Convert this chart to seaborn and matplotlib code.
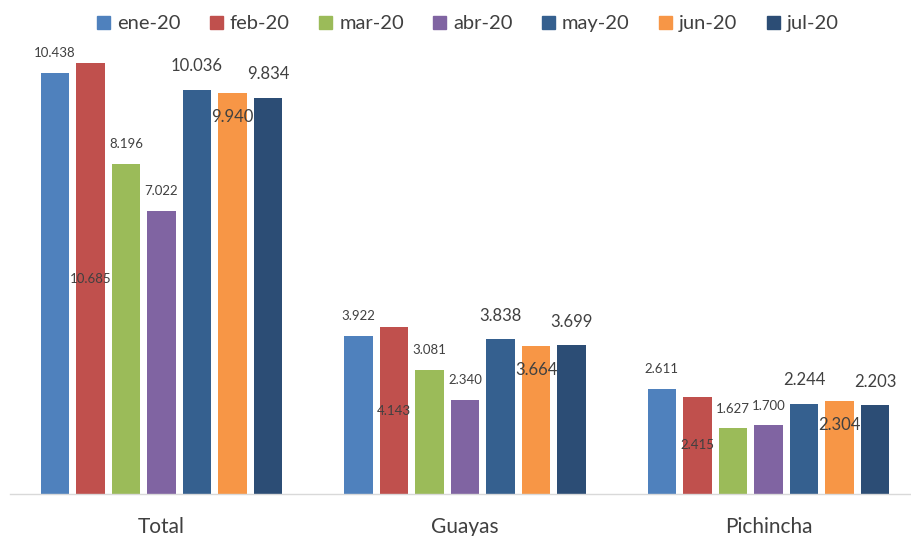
import matplotlib
matplotlib.use("Agg")
import matplotlib.pyplot as plt
import matplotlib.patches as mpatches
import seaborn as sns
import pandas as pd

regions = ["Total", "Guayas", "Pichincha"]
months = ["ene-20", "feb-20", "mar-20", "abr-20", "may-20", "jun-20", "jul-20"]
ene = [10.438, 3.922, 2.611]
feb = [10.685, 4.143, 2.415]
mar = [8.196, 3.081, 1.627]
abr = [7.022, 2.340, 1.700]
may = [10.036, 3.838, 2.244]
jun = [9.940, 3.664, 2.304]
jul = [9.834, 3.699, 2.203]
series = [ene, feb, mar, abr, may, jun, jul]
colors = ["#4F81BD", "#C0504D", "#9BBB59", "#8064A2", "#35608F", "#F79646", "#2C4D75"]

rows = []
for m, vals in zip(months, series):
    for r, v in zip(regions, vals):
        rows.append({"region": r, "month": m, "value": v})
df = pd.DataFrame(rows)

sns.set_theme(style="white")
plt.rcParams["font.family"] = ["Lato", "DejaVu Sans"]
text_color = "#404040"

fig = plt.figure(figsize=(9.12, 5.36), dpi=100)
ax = fig.add_axes([10 / 912, 42 / 536, 902 / 912, 484 / 536])

sns.barplot(data=df, x="region", y="value", hue="month", order=regions,
            hue_order=months, palette=colors, width=0.82, gap=0.2,
            saturation=1, ax=ax, legend=False, edgecolor="none")

ax.set_xlim(-0.499, 2.473)
ax.set_ylim(0, 484 / 40.3)

for i, cont in enumerate(ax.containers):
    labels = [f"{v:.3f}" for v in series[i]]
    if i == 1:
        ax.bar_label(cont, labels=labels, label_type="center", fontsize=9.5,
                     color=text_color)
    elif i == 5:
        ax.bar_label(cont, labels=labels, label_type="edge", padding=-23,
                     fontsize=12, color=text_color)
    elif i in (4, 6):
        ax.bar_label(cont, labels=labels, label_type="edge", padding=11,
                     fontsize=12, color=text_color)
    else:
        ax.bar_label(cont, labels=labels, label_type="edge", padding=10,
                     fontsize=9.5, color=text_color)

for s in ["top", "right", "left"]:
    ax.spines[s].set_visible(False)
ax.spines["bottom"].set_color("#D9D9D9")
ax.spines["bottom"].set_linewidth(1)
ax.set_yticks([])
ax.set_xlabel("")
ax.set_ylabel("")
ax.tick_params(axis="x", length=0, pad=16.5, labelsize=15, labelcolor=text_color)

handles = [mpatches.Patch(color=c, label=m) for c, m in zip(colors, months)]
fig.legend(handles=handles, loc="upper center", bbox_to_anchor=(0.513, 1.005),
           ncol=7, frameon=False, fontsize=14.5, handlelength=0.65,
           handleheight=0.65, handletextpad=0.35, columnspacing=1.45,
           labelcolor=text_color)

fig.savefig("out.png", dpi=100)
